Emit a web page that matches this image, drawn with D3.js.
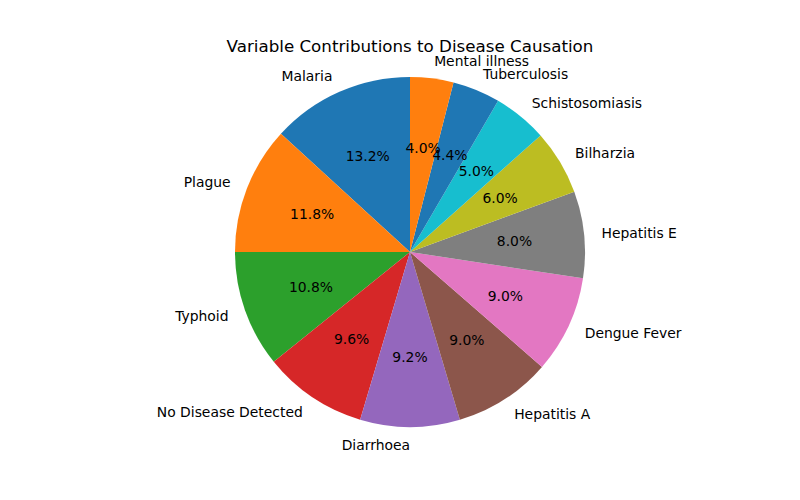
<!DOCTYPE html>
<html>
<head>
<meta charset="utf-8">
<script src="https://cdn.jsdelivr.net/npm/d3@7"></script>
<style>
  body { margin: 0; background: #fff; }
  text { font-family: "DejaVu Sans", sans-serif; fill: #000; }
</style>
</head>
<body>
<svg id="chart" width="800" height="500"></svg>
<script>
'use strict';

// slice data, in drawing order (counterclockwise from the top)
const labels = ['Malaria', 'Plague', 'Typhoid', 'No Disease Detected', 'Diarrhoea',
  'Hepatitis A', 'Dengue Fever', 'Hepatitis E', 'Bilharzia', 'Schistosomiasis',
  'Tuberculosis', 'Mental illness'];
const shares = [13.2, 11.8, 10.8, 9.6, 9.2, 9.0, 9.0, 8.0, 6.0, 5.0, 4.4, 4.0];
const colors = ['#1f77b4', '#ff7f0e', '#2ca02c', '#d62728', '#9467bd', '#8c564b',
  '#e377c2', '#7f7f7f', '#bcbd22', '#17becf', '#1f77b4', '#ff7f0e'];

const width = 800;
const height = 500;
const cx = 410;
const cy = 252;
const radius = 175;

const svg = d3.select('#chart');

svg.append('text')
    .attr('x', cx)
    .attr('y', 46)
    .attr('text-anchor', 'middle')
    .attr('dominant-baseline', 'central')
    .style('font-size', '16.7px')
    .text('Variable Contributions to Disease Causation');

// counterclockwise from 12 o'clock, like matplotlib's startangle=90
const pie = d3.pie()
    .sort(null)
    .startAngle(0)
    .endAngle(-2 * Math.PI);
const arcs = pie(shares);

const arc = d3.arc()
    .innerRadius(0)
    .outerRadius(radius);

const g = svg.append('g')
    .attr('transform', 'translate(' + cx + ',' + cy + ')');

g.selectAll('path')
    .data(arcs)
    .enter().append('path')
    .attr('fill', (d, i) => colors[i])
    .attr('d', arc);

// d3 angle: 0 at top, clockwise; convert mid angle to x/y
const pos = (d, r) => {
  const a = (d.startAngle + d.endAngle) / 2;
  return [r * Math.sin(a), -r * Math.cos(a)];
};

g.selectAll('text.pct')
    .data(arcs)
    .enter().append('text')
    .attr('class', 'pct')
    .attr('x', (d) => pos(d, radius * 0.6)[0])
    .attr('y', (d) => pos(d, radius * 0.6)[1])
    .attr('text-anchor', 'middle')
    .attr('dominant-baseline', 'central')
    .style('font-size', '13.9px')
    .text((d) => d.data.toFixed(1) + '%');

// outer labels overlap at the small slices, as in the original
g.selectAll('text.lbl')
    .data(arcs)
    .enter().append('text')
    .attr('class', 'lbl')
    .attr('x', (d) => pos(d, radius * 1.1)[0])
    .attr('y', (d) => pos(d, radius * 1.1)[1])
    .attr('text-anchor', (d) => pos(d, 1)[0] > 0 ? 'start' : 'end')
    .attr('dominant-baseline', 'central')
    .style('font-size', '13.9px')
    .text((d, i) => labels[i]);
</script>
</body>
</html>
